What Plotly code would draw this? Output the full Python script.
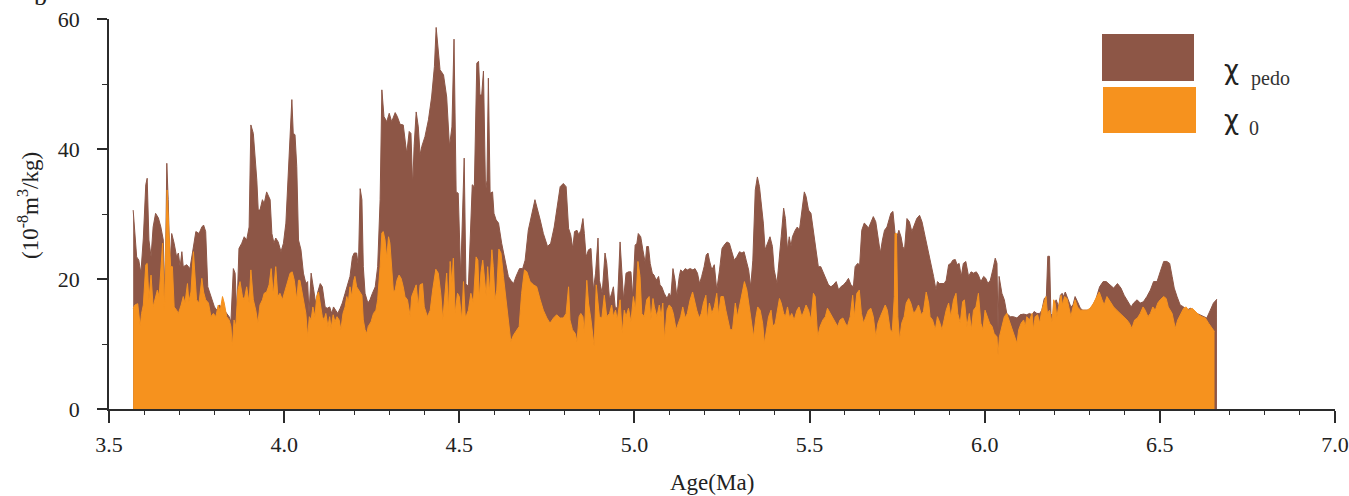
import plotly.graph_objects as go

# Magnetic susceptibility record, 3.5-7.0 Ma
ages_pedo = [
    3.569, 3.579, 3.585, 3.591, 3.598, 3.605, 3.609, 3.614, 3.620, 3.626,
    3.633, 3.641, 3.648, 3.655, 3.660, 3.665, 3.669, 3.674, 3.679, 3.686,
    3.693, 3.698, 3.703, 3.708, 3.712, 3.722, 3.731, 3.741, 3.748, 3.757,
    3.765, 3.770, 3.776, 3.782, 3.788, 3.795, 3.801, 3.808, 3.814, 3.822,
    3.829, 3.836, 3.843, 3.848, 3.855, 3.860, 3.865, 3.871, 3.879, 3.886,
    3.893, 3.900, 3.905, 3.912, 3.917, 3.922, 3.926, 3.931, 3.938, 3.943,
    3.950, 3.955, 3.960, 3.965, 3.971, 3.976, 3.983, 3.991, 3.998, 4.005,
    4.012, 4.017, 4.022, 4.026, 4.031, 4.036, 4.041, 4.048, 4.055, 4.062,
    4.067, 4.071, 4.077, 4.083, 4.090, 4.096, 4.103, 4.109, 4.117, 4.123,
    4.130, 4.136, 4.141, 4.147, 4.153, 4.160, 4.166, 4.174, 4.182, 4.188,
    4.195, 4.200, 4.207, 4.212, 4.217, 4.222, 4.226, 4.231, 4.239, 4.245,
    4.252, 4.260, 4.267, 4.274, 4.279, 4.285, 4.293, 4.300, 4.307, 4.317,
    4.323, 4.331, 4.340, 4.347, 4.350, 4.357, 4.362, 4.367, 4.371, 4.377,
    4.383, 4.388, 4.393, 4.402, 4.412, 4.421, 4.429, 4.434, 4.439, 4.445,
    4.455, 4.464, 4.472, 4.479, 4.485, 4.491, 4.497, 4.504, 4.514, 4.519,
    4.526, 4.533, 4.537, 4.543, 4.550, 4.555, 4.559, 4.564, 4.569, 4.575,
    4.579, 4.583, 4.588, 4.595, 4.599, 4.605, 4.612, 4.621, 4.633, 4.640,
    4.647, 4.655, 4.662, 4.672, 4.681, 4.688, 4.697, 4.707, 4.716, 4.731,
    4.740, 4.752, 4.761, 4.771, 4.780, 4.788, 4.797, 4.805, 4.812, 4.818,
    4.824, 4.829, 4.836, 4.841, 4.847, 4.853, 4.857, 4.862, 4.869, 4.876,
    4.883, 4.889, 4.896, 4.900, 4.908, 4.916, 4.921, 4.929, 4.935, 4.940,
    4.945, 4.951, 4.959, 4.964, 4.969, 4.976, 4.983, 4.990, 4.995, 5.002,
    5.007, 5.011, 5.018, 5.024, 5.031, 5.035, 5.040, 5.045, 5.051, 5.056,
    5.062, 5.069, 5.073, 5.078, 5.085, 5.093, 5.099, 5.104, 5.110, 5.116,
    5.121, 5.128, 5.132, 5.138, 5.145, 5.151, 5.159, 5.167, 5.173, 5.180,
    5.186, 5.192, 5.199, 5.205, 5.210, 5.214, 5.221, 5.228, 5.235, 5.243,
    5.250, 5.256, 5.264, 5.271, 5.278, 5.285, 5.292, 5.300, 5.307, 5.313,
    5.319, 5.326, 5.332, 5.338, 5.345, 5.351, 5.357, 5.364, 5.368, 5.373,
    5.380, 5.387, 5.394, 5.399, 5.407, 5.413, 5.419, 5.426, 5.431, 5.437,
    5.442, 5.447, 5.451, 5.459, 5.465, 5.471, 5.478, 5.485, 5.490, 5.497,
    5.504, 5.511, 5.519, 5.525, 5.532, 5.540, 5.547, 5.554, 5.561, 5.568,
    5.576, 5.583, 5.589, 5.597, 5.605, 5.611, 5.618, 5.625, 5.630, 5.637,
    5.643, 5.649, 5.656, 5.662, 5.668, 5.675, 5.682, 5.689, 5.695, 5.702,
    5.708, 5.714, 5.721, 5.726, 5.732, 5.738, 5.744, 5.749, 5.755, 5.761,
    5.766, 5.771, 5.778, 5.785, 5.792, 5.799, 5.806, 5.814, 5.821, 5.830,
    5.840, 5.849, 5.854, 5.861, 5.865, 5.871, 5.878, 5.884, 5.890, 5.897,
    5.903, 5.909, 5.916, 5.921, 5.927, 5.933, 5.939, 5.946, 5.954, 5.961,
    5.968, 5.976, 5.982, 5.989, 5.997, 6.003, 6.009, 6.016, 6.023, 6.030,
    6.035, 6.038, 6.041, 6.049, 6.056, 6.063, 6.073, 6.082, 6.092, 6.101,
    6.111, 6.120, 6.128, 6.135, 6.141, 6.149, 6.157, 6.163, 6.170, 6.176,
    6.180, 6.185, 6.189, 6.195, 6.199, 6.204, 6.211, 6.216, 6.221, 6.225,
    6.230, 6.235, 6.241, 6.246, 6.252, 6.258, 6.265, 6.273, 6.280, 6.290,
    6.299, 6.309, 6.318, 6.328, 6.338, 6.347, 6.356, 6.368, 6.379, 6.389,
    6.398, 6.409, 6.418, 6.425, 6.435, 6.444, 6.453, 6.463, 6.473, 6.482,
    6.492, 6.501, 6.511, 6.520, 6.528, 6.535, 6.541, 6.549, 6.558, 6.568,
    6.577, 6.587, 6.596, 6.606, 6.615, 6.625, 6.634, 6.644, 6.653, 6.663,
]

chi_pedo = [
    30.6, 23.4, 22.9, 20.9, 26.3, 34.5, 35.5, 26.0, 23.4, 28.0,
    30.1, 29.4, 28.0, 26.0, 16.8, 37.8, 32.2, 21.9, 27.0, 25.5,
    23.4, 24.0, 21.9, 24.2, 21.9, 22.2, 21.6, 25.0, 27.3, 27.0,
    28.0, 28.3, 27.3, 18.8, 17.8, 16.8, 15.7, 15.2, 16.0, 15.7,
    15.2, 14.7, 14.2, 13.4, 21.6, 20.9, 14.7, 24.7, 25.5, 26.5,
    26.0, 28.0, 43.7, 42.4, 38.8, 35.2, 30.6, 30.6, 32.2, 31.6,
    33.4, 32.7, 32.2, 27.0, 25.5, 26.3, 25.7, 24.2, 25.5, 28.6,
    35.7, 42.4, 47.6, 42.4, 42.2, 37.3, 26.0, 24.5, 20.9, 19.3,
    19.6, 14.7, 20.9, 18.8, 16.3, 18.0, 19.3, 18.8, 15.7, 15.5,
    15.7, 14.7, 15.7, 15.2, 14.7, 15.5, 16.3, 17.8, 19.1, 20.4,
    23.4, 24.0, 24.0, 21.9, 33.9, 32.2, 21.9, 17.8, 16.3, 16.8,
    17.8, 18.8, 21.9, 32.2, 49.1, 45.0, 44.2, 45.5, 44.2, 45.6,
    45.0, 43.8, 43.7, 40.4, 39.3, 42.7, 42.4, 34.2, 40.4, 45.7,
    43.4, 39.1, 40.4, 41.9, 44.5, 48.0, 52.7, 58.7, 55.7, 52.2,
    51.4, 48.0, 40.4, 43.4, 56.9, 33.4, 33.2, 20.4, 38.6, 19.3,
    18.8, 28.0, 34.5, 34.2, 53.2, 53.5, 48.3, 48.3, 52.0, 33.4,
    35.2, 50.9, 33.2, 33.4, 30.1, 29.1, 28.6, 25.5, 22.4, 20.4,
    19.8, 19.3, 20.4, 21.6, 21.6, 22.9, 27.5, 30.1, 32.2, 29.1,
    27.0, 25.0, 25.5, 28.0, 31.1, 34.2, 34.7, 34.2, 27.8, 26.8,
    24.7, 27.3, 27.5, 26.8, 27.5, 29.3, 27.0, 23.4, 24.5, 24.7,
    18.3, 20.9, 26.3, 19.8, 17.8, 24.0, 22.4, 16.8, 17.8, 18.8,
    15.7, 15.5, 25.7, 21.9, 16.8, 20.9, 21.1, 21.1, 17.3, 25.2,
    25.5, 27.0, 26.5, 24.5, 22.4, 25.0, 25.0, 22.4, 20.9, 20.6,
    19.8, 20.4, 19.1, 18.8, 17.8, 17.0, 17.8, 17.3, 21.6, 19.8,
    17.3, 20.4, 21.4, 21.1, 21.6, 21.4, 21.6, 21.4, 21.6, 20.9,
    19.3, 20.4, 21.9, 23.7, 24.0, 22.9, 21.4, 22.2, 18.3, 21.4,
    24.7, 25.2, 25.7, 25.5, 24.0, 22.9, 23.4, 24.2, 24.0, 24.2,
    22.9, 21.4, 18.8, 22.9, 33.7, 35.7, 34.2, 30.6, 28.6, 24.5,
    25.5, 26.5, 25.0, 21.4, 19.3, 22.4, 26.5, 30.9, 29.3, 24.5,
    26.5, 25.0, 26.5, 27.5, 28.0, 27.5, 30.6, 33.4, 32.7, 30.6,
    30.1, 27.5, 24.5, 21.9, 21.9, 20.9, 19.8, 19.1, 18.8, 19.1,
    19.6, 18.3, 18.8, 19.1, 19.6, 20.1, 19.1, 18.8, 21.9, 22.4,
    22.2, 27.5, 28.6, 28.3, 27.8, 28.8, 29.6, 28.8, 26.5, 24.0,
    26.0, 27.5, 28.0, 28.8, 30.1, 30.4, 27.0, 26.5, 27.5, 26.5,
    25.0, 24.5, 29.3, 28.8, 27.3, 28.3, 29.3, 29.8, 28.8, 26.5,
    24.0, 21.9, 20.4, 18.3, 19.6, 19.3, 19.3, 19.3, 19.8, 22.2,
    22.4, 22.9, 23.0, 22.2, 22.4, 20.4, 22.4, 22.7, 20.4, 21.1,
    20.9, 21.1, 20.6, 19.6, 20.4, 20.1, 19.3, 19.8, 21.4, 23.2,
    22.4, 12.2, 20.4, 17.8, 16.8, 14.7, 14.2, 14.2, 14.0, 14.5,
    14.6, 14.5, 14.7, 14.5, 15.0, 14.7, 14.7, 15.2, 17.0, 17.3,
    23.5, 23.5, 14.7, 14.0, 16.3, 16.8, 15.7, 17.5, 17.8, 17.3,
    18.0, 17.3, 16.3, 15.7, 16.0, 17.3, 16.5, 15.5, 15.2, 15.2,
    15.2, 16.0, 17.0, 18.8, 19.6, 19.6, 19.1, 18.6, 19.3, 18.6,
    17.5, 16.5, 15.7, 16.3, 16.8, 16.3, 16.5, 17.3, 18.3, 19.6,
    19.6, 21.1, 22.7, 22.7, 22.4, 20.4, 18.6, 17.3, 16.0, 15.7,
    15.2, 15.5, 15.2, 14.7, 14.5, 14.2, 14.0, 15.2, 16.3, 16.9,
]

ages_0 = [
    3.569, 3.574, 3.582, 3.589, 3.593, 3.598, 3.605, 3.609, 3.614, 3.620,
    3.626, 3.633, 3.638, 3.643, 3.648, 3.653, 3.658, 3.663, 3.666, 3.671,
    3.676, 3.681, 3.686, 3.693, 3.698, 3.706, 3.712, 3.717, 3.724, 3.728,
    3.734, 3.741, 3.746, 3.750, 3.757, 3.765, 3.770, 3.776, 3.784, 3.791,
    3.798, 3.805, 3.812, 3.817, 3.824, 3.829, 3.836, 3.843, 3.848, 3.852,
    3.857, 3.862, 3.868, 3.874, 3.881, 3.886, 3.893, 3.900, 3.905, 3.912,
    3.919, 3.925, 3.931, 3.938, 3.943, 3.950, 3.957, 3.963, 3.969, 3.976,
    3.982, 3.988, 3.995, 4.003, 4.010, 4.017, 4.023, 4.029, 4.036, 4.041,
    4.045, 4.050, 4.057, 4.062, 4.067, 4.072, 4.077, 4.082, 4.088, 4.093,
    4.098, 4.103, 4.109, 4.114, 4.119, 4.125, 4.130, 4.134, 4.140, 4.145,
    4.151, 4.157, 4.162, 4.168, 4.174, 4.179, 4.183, 4.188, 4.193, 4.198,
    4.202, 4.207, 4.212, 4.217, 4.222, 4.226, 4.231, 4.236, 4.240, 4.248,
    4.255, 4.262, 4.267, 4.274, 4.279, 4.283, 4.288, 4.293, 4.298, 4.302,
    4.307, 4.312, 4.317, 4.322, 4.328, 4.334, 4.340, 4.345, 4.352, 4.360,
    4.364, 4.371, 4.377, 4.383, 4.388, 4.395, 4.400, 4.409, 4.417, 4.424,
    4.433, 4.440, 4.447, 4.453, 4.459, 4.464, 4.469, 4.474, 4.479, 4.483,
    4.488, 4.495, 4.500, 4.507, 4.512, 4.517, 4.521, 4.526, 4.533, 4.540,
    4.548, 4.553, 4.557, 4.562, 4.567, 4.572, 4.577, 4.581, 4.586, 4.593,
    4.597, 4.602, 4.607, 4.613, 4.619, 4.626, 4.634, 4.640, 4.647, 4.655,
    4.664, 4.671, 4.678, 4.686, 4.693, 4.702, 4.712, 4.721, 4.731, 4.740,
    4.750, 4.759, 4.769, 4.778, 4.788, 4.797, 4.805, 4.812, 4.816, 4.823,
    4.831, 4.836, 4.842, 4.847, 4.853, 4.857, 4.864, 4.869, 4.876, 4.881,
    4.885, 4.891, 4.896, 4.900, 4.907, 4.914, 4.921, 4.929, 4.935, 4.940,
    4.946, 4.951, 4.959, 4.965, 4.971, 4.976, 4.983, 4.990, 4.997, 5.003,
    5.010, 5.016, 5.021, 5.028, 5.035, 5.042, 5.047, 5.053, 5.057, 5.064,
    5.071, 5.076, 5.081, 5.086, 5.093, 5.099, 5.105, 5.111, 5.119, 5.126,
    5.132, 5.138, 5.145, 5.151, 5.159, 5.166, 5.171, 5.178, 5.185, 5.191,
    5.197, 5.204, 5.208, 5.214, 5.221, 5.228, 5.235, 5.240, 5.247, 5.254,
    5.261, 5.267, 5.273, 5.280, 5.288, 5.294, 5.302, 5.310, 5.314, 5.321,
    5.328, 5.335, 5.340, 5.347, 5.352, 5.359, 5.366, 5.371, 5.378, 5.383,
    5.390, 5.395, 5.402, 5.408, 5.414, 5.419, 5.426, 5.431, 5.437, 5.443,
    5.449, 5.456, 5.464, 5.470, 5.478, 5.485, 5.490, 5.497, 5.504, 5.511,
    5.516, 5.523, 5.530, 5.538, 5.545, 5.551, 5.559, 5.565, 5.573, 5.580,
    5.587, 5.595, 5.602, 5.608, 5.616, 5.623, 5.628, 5.635, 5.642, 5.648,
    5.654, 5.661, 5.668, 5.675, 5.682, 5.689, 5.695, 5.702, 5.709, 5.716,
    5.722, 5.730, 5.736, 5.742, 5.744, 5.748, 5.752, 5.757, 5.763, 5.770,
    5.776, 5.783, 5.789, 5.797, 5.804, 5.811, 5.819, 5.825, 5.833, 5.840,
    5.844, 5.851, 5.859, 5.865, 5.871, 5.878, 5.884, 5.890, 5.897, 5.903,
    5.911, 5.918, 5.923, 5.930, 5.937, 5.942, 5.949, 5.956, 5.962, 5.968,
    5.975, 5.982, 5.989, 5.995, 6.001, 6.008, 6.014, 6.021, 6.027, 6.035,
    6.038, 6.042, 6.049, 6.056, 6.063, 6.073, 6.082, 6.092, 6.097, 6.104,
    6.111, 6.116, 6.120, 6.128, 6.135, 6.139, 6.144, 6.151, 6.157, 6.163,
    6.170, 6.175, 6.179, 6.185, 6.192, 6.197, 6.201, 6.206, 6.213, 6.218,
    6.222, 6.228, 6.235, 6.241, 6.246, 6.252, 6.258, 6.265, 6.273, 6.282,
    6.292, 6.301, 6.311, 6.320, 6.327, 6.335, 6.341, 6.349, 6.358, 6.368,
    6.377, 6.387, 6.396, 6.406, 6.413, 6.420, 6.428, 6.436, 6.444, 6.452,
    6.458, 6.466, 6.473, 6.480, 6.487, 6.494, 6.501, 6.511, 6.518, 6.524,
    6.535, 6.544, 6.551, 6.560, 6.568, 6.575, 6.582, 6.592, 6.601, 6.611,
    6.620, 6.630, 6.639, 6.649, 6.656,
]

chi_0 = [
    15.5, 16.0, 16.2, 12.7, 14.7, 16.0, 22.2, 22.4, 16.8, 20.6,
    15.7, 17.3, 18.3, 17.3, 21.9, 25.5, 15.2, 27.0, 33.7, 27.0,
    21.9, 21.9, 15.7, 15.2, 14.7, 16.0, 17.3, 16.3, 19.3, 16.5,
    18.0, 24.2, 19.8, 16.8, 16.3, 20.1, 18.0, 16.8, 16.3, 14.2,
    14.7, 14.2, 16.0, 15.0, 17.3, 16.3, 14.2, 13.7, 12.7, 9.6,
    13.7, 12.7, 18.3, 19.6, 17.3, 16.8, 18.8, 16.3, 21.4, 16.8,
    15.2, 13.2, 16.0, 16.8, 17.8, 18.0, 19.1, 21.6, 17.5, 21.9,
    17.3, 17.8, 16.8, 18.3, 19.8, 20.9, 21.1, 19.8, 16.8, 19.8,
    19.8, 18.3, 15.7, 14.7, 11.1, 14.2, 13.7, 15.7, 14.2, 17.3,
    18.0, 16.3, 14.2, 13.7, 14.7, 12.7, 14.2, 12.4, 14.5, 13.4,
    14.2, 13.7, 12.2, 14.7, 15.7, 17.3, 16.3, 18.8, 17.3, 19.6,
    20.4, 18.8, 18.3, 17.8, 17.5, 13.7, 12.2, 11.6, 12.7, 13.4,
    14.7, 15.2, 16.8, 21.9, 27.1, 27.3, 26.0, 23.2, 26.5, 25.5,
    21.0, 18.0, 18.3, 19.8, 20.6, 20.1, 18.8, 17.3, 16.8, 14.2,
    17.3, 18.3, 19.1, 15.7, 19.1, 19.3, 15.7, 14.2, 15.2, 18.3,
    21.5, 20.9, 17.8, 13.7, 18.3, 20.9, 15.0, 22.7, 19.3, 23.2,
    14.7, 17.8, 17.3, 13.7, 19.6, 14.2, 14.5, 15.2, 17.8, 16.3,
    23.4, 22.9, 16.8, 21.1, 22.9, 19.8, 17.3, 21.9, 17.8, 24.5,
    21.9, 16.8, 18.3, 24.6, 24.0, 20.4, 16.8, 13.2, 10.4, 11.4,
    12.2, 12.7, 17.8, 21.4, 21.1, 19.6, 19.1, 18.8, 16.8, 15.2,
    14.0, 13.2, 14.0, 14.5, 14.0, 14.0, 14.7, 18.8, 13.7, 12.2,
    11.6, 10.4, 14.2, 14.7, 14.2, 11.6, 19.8, 16.3, 13.7, 11.1,
    9.6, 19.1, 16.8, 14.2, 14.0, 17.5, 14.2, 14.7, 16.0, 14.2,
    15.2, 13.7, 16.8, 11.6, 15.2, 14.2, 15.5, 13.4, 17.3, 15.2,
    22.7, 20.4, 14.7, 14.2, 16.8, 17.3, 13.7, 17.0, 15.7, 14.2,
    16.0, 14.2, 16.3, 10.6, 15.2, 16.0, 15.7, 14.7, 12.2, 13.2,
    14.2, 15.7, 14.0, 14.7, 16.8, 18.0, 16.8, 15.2, 14.0, 14.7,
    16.3, 17.5, 13.7, 16.3, 14.7, 15.7, 17.8, 14.5, 17.3, 17.3,
    15.2, 13.7, 12.2, 12.2, 16.3, 14.2, 16.3, 18.3, 19.6, 18.3,
    15.7, 13.2, 11.1, 14.2, 15.7, 15.2, 13.2, 10.1, 12.2, 14.2,
    15.2, 12.7, 13.2, 15.2, 17.0, 16.3, 14.7, 14.2, 15.7, 14.0,
    14.7, 13.7, 15.2, 15.7, 14.2, 15.2, 16.0, 15.2, 13.7, 17.8,
    17.3, 11.1, 12.7, 13.7, 14.2, 15.5, 14.7, 14.2, 13.2, 12.7,
    13.7, 14.0, 13.2, 12.7, 14.2, 17.5, 14.2, 17.8, 18.3, 14.7,
    13.2, 14.2, 15.2, 15.5, 14.2, 11.1, 13.2, 14.2, 15.2, 16.0,
    15.2, 12.2, 11.9, 17.3, 27.0, 27.0, 14.2, 10.6, 13.2, 14.2,
    16.3, 17.0, 16.3, 14.7, 15.2, 16.0, 14.5, 15.0, 18.0, 16.3,
    14.2, 13.7, 12.2, 14.2, 13.4, 12.2, 13.7, 15.2, 16.3, 14.2,
    16.8, 17.8, 14.7, 13.2, 16.5, 16.8, 12.7, 14.7, 12.2, 15.2,
    15.7, 17.8, 13.2, 12.2, 15.2, 14.2, 13.2, 12.7, 11.6, 11.1,
    8.3, 11.1, 12.7, 14.2, 14.7, 13.2, 11.6, 10.1, 12.2, 13.2,
    13.7, 12.7, 14.2, 13.7, 14.7, 12.2, 14.2, 14.5, 13.2, 15.2,
    16.5, 17.3, 14.7, 15.2, 13.4, 16.8, 16.3, 14.2, 16.3, 17.5,
    16.0, 17.3, 17.0, 15.2, 14.2, 15.7, 16.8, 15.7, 15.2, 15.2,
    15.2, 15.5, 16.3, 17.3, 18.0, 16.8, 16.0, 17.3, 16.5, 15.7,
    15.2, 14.7, 14.2, 13.7, 13.2, 12.4, 13.7, 14.0, 14.7, 15.7,
    15.2, 14.2, 14.7, 15.7, 15.2, 16.3, 16.8, 17.3, 17.0, 15.7,
    14.7, 12.4, 13.7, 14.7, 15.5, 15.7, 15.2, 15.5, 15.0, 14.5,
    14.2, 14.0, 13.2, 12.4, 11.9,
]

x_ticks = [3.5, 4.0, 4.5, 5.0, 5.5, 6.0, 6.5, 7.0]
y_ticks = [0, 20, 40, 60]

BROWN = "#8D5646"
ORANGE = "#F6921E"
AXIS = "#2b2b2b"
SERIF = "Liberation Serif, Times New Roman, serif"
CHI_FONT = "DejaVu Sans, Noto Sans, sans-serif"

fig = go.Figure()
fig.add_trace(go.Scatter(
    x=ages_pedo, y=chi_pedo, mode="lines", fill="tozeroy",
    line=dict(color=BROWN, width=1), fillcolor=BROWN,
    name="χ pedo", showlegend=False, hoverinfo="x+y",
))
fig.add_trace(go.Scatter(
    x=ages_0, y=chi_0, mode="lines", fill="tozeroy",
    line=dict(color=ORANGE, width=1), fillcolor=ORANGE,
    name="χ 0", showlegend=False, hoverinfo="x+y",
))

# plot-area geometry (pixels) used for placing legend and labels
W, H = 1349, 496
ML, MR, MT, MB = 109, 14, 19, 87
PW, PH = W - ML - MR, H - MT - MB


def px(xp):
    return (xp - ML) / PW


def py(yp):
    return (H - MB - yp) / PH


shapes = [
    # x-axis line runs a little past the y axis on the left
    dict(type="line", xref="paper", yref="paper", x0=px(99), x1=px(ML),
         y0=0, y1=0, line=dict(color=AXIS, width=1.5)),
    # legend swatches
    dict(type="rect", xref="paper", yref="paper",
         x0=px(1102), x1=px(1194), y0=py(81), y1=py(34),
         fillcolor=BROWN, line=dict(width=0)),
    dict(type="rect", xref="paper", yref="paper",
         x0=px(1103), x1=px(1196), y0=py(133), y1=py(87),
         fillcolor=ORANGE, line=dict(width=0)),
]


def label(text, xp, yp, size, family=SERIF, color="#222", angle=0):
    return dict(text=text, x=px(xp), y=py(yp), xref="paper", yref="paper",
                xanchor="center", yanchor="middle", showarrow=False,
                textangle=angle, font=dict(family=family, size=size, color=color))


annotations = [
    label("χ", 1231, 70, 26, family=CHI_FONT, color="#222"),
    label("pedo", 1270, 78, 20, color="#333"),
    label("χ", 1231, 120, 26, family=CHI_FONT, color="#222"),
    label("0", 1254, 128, 20, color="#333"),
    label("(10<sup>-8</sup>m<sup>3</sup>/kg)", 29, 206, 23, angle=-90),
    label("Age(Ma)", 712, 482, 23),
    label("b", 40, -3, 26),
]

fig.update_layout(
    width=W, height=H,
    margin=dict(l=ML, r=MR, t=MT, b=MB, pad=0, autoexpand=False),
    paper_bgcolor="white", plot_bgcolor="white",
    showlegend=False,
    shapes=shapes, annotations=annotations,
    font=dict(family=SERIF, size=22, color="#222"),
    xaxis=dict(
        range=[3.5, 7.0], tickvals=x_ticks, ticktext=[f"{v:.1f}" for v in x_ticks],
        showgrid=False, zeroline=False, showline=True, linecolor=AXIS, linewidth=1.5,
        ticks="outside", ticklen=12, tickwidth=1.5, tickcolor=AXIS,
        ticklabelstandoff=3, automargin=False,
        minor=dict(dtick=0.1, tick0=3.5, ticks="outside", ticklen=4,
                   tickwidth=1.2, tickcolor=AXIS, showgrid=False),
        tickfont=dict(family=SERIF, size=22, color="#222"),
    ),
    yaxis=dict(
        range=[0, 60], tickvals=y_ticks,
        showgrid=False, zeroline=False, showline=True, linecolor=AXIS, linewidth=1.5,
        ticks="outside", ticklen=10, tickwidth=1.5, tickcolor=AXIS,
        ticklabelstandoff=13, automargin=False,
        minor=dict(dtick=10, tick0=0, ticks="outside", ticklen=5,
                   tickwidth=1.2, tickcolor=AXIS, showgrid=False),
        tickfont=dict(family=SERIF, size=22, color="#222"),
    ),
)

fig.write_html("out.html")
